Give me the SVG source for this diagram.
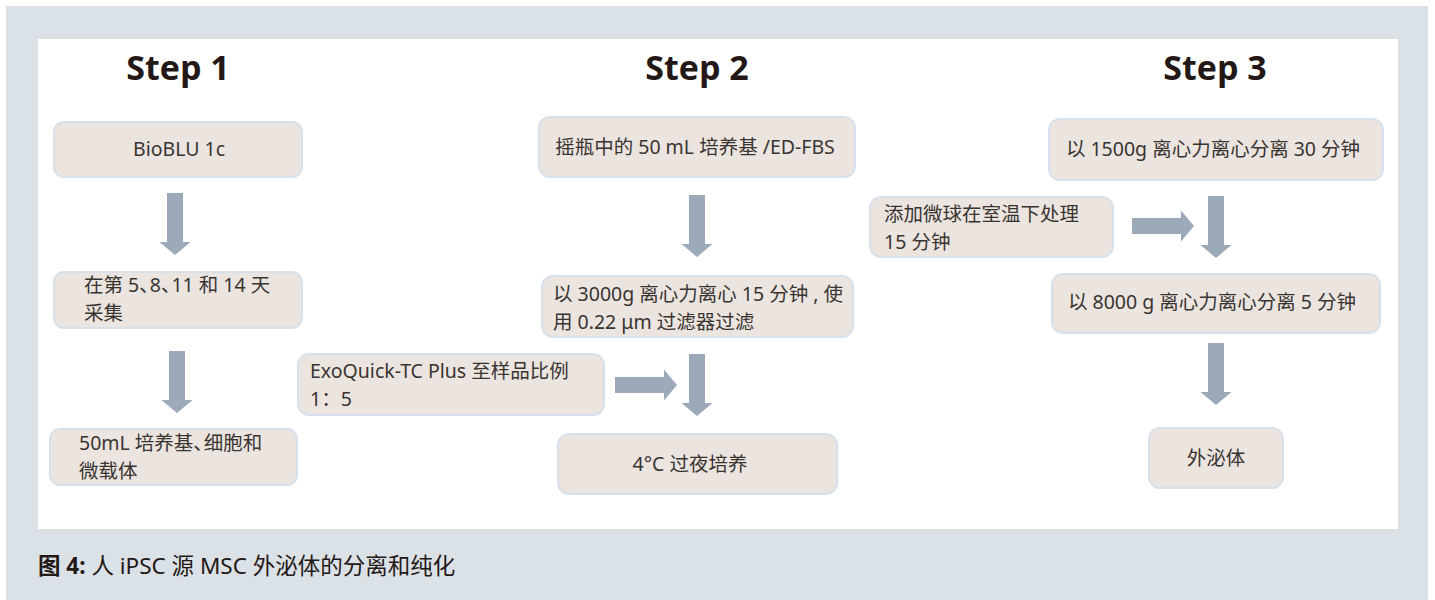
<svg xmlns="http://www.w3.org/2000/svg" xmlns:xlink="http://www.w3.org/1999/xlink" width="1435" height="600" viewBox="0 0 1435 600">
  <style>
    .frame { fill: #dae1e7; }
    .panel { fill: #ffffff; }
    .box { fill: #ebe4df; stroke: #d6e1ec; stroke-width: 2; }
    .step { font-family: "Open Sans", "Noto Sans", sans-serif; font-weight: 700; font-size: 34px; fill: #231815; text-anchor: middle; }
    .label { font-family: "Noto Sans", "Open Sans", "Noto Sans CJK SC", sans-serif; font-size: 19.5px; fill: #3a3431; }
    .mid { text-anchor: middle; }
    .caption { font-family: "Noto Sans", "Noto Sans CJK SC", sans-serif; font-size: 22.5px; fill: #231815; }
    .arrow { fill: #9ca9b8; }
    .tight { letter-spacing: -9px; }
  </style>
  <defs>
    <!-- block arrow pointing down, origin at the top centre of the shaft -->
    <path id="arrowDown" class="arrow" d="M-8,0 H8 V49 H15.5 L0,62 L-15.5,49 H-8 Z"/>
  </defs>

  <!-- background frame and white panel -->
  <rect x="0" y="0" width="1435" height="600" fill="#ffffff"/>
  <rect class="frame" x="6" y="6" width="1422" height="594"/>
  <rect class="panel" x="38" y="39" width="1360" height="490"/>

  <!-- column headings -->
  <g id="headings">
    <text class="step" x="178" y="80">Step 1</text>
    <text class="step" x="697" y="80">Step 2</text>
    <text class="step" x="1215" y="80">Step 3</text>
  </g>

  <!-- Step 1 column -->
  <g id="s1-bioblu">
    <rect class="box" x="54" y="122" width="248" height="55" rx="10"/>
    <text class="label mid" x="179" y="156">BioBLU 1c</text>
  </g>
  <g id="s1-collect">
    <rect class="box" x="54" y="272" width="248" height="56" rx="10"/>
    <text class="label"><tspan x="84" y="292">在第 5<tspan class="tight">、</tspan>8<tspan class="tight">、</tspan>11 和 14 天</tspan><tspan x="84" y="320">采集</tspan></text>
  </g>
  <g id="s1-medium">
    <rect class="box" x="50" y="429" width="247" height="56" rx="10"/>
    <text class="label"><tspan x="79" y="450">50mL 培养基<tspan class="tight">、</tspan>细胞和</tspan><tspan x="79" y="478">微载体</tspan></text>
  </g>

  <!-- Step 2 column -->
  <g id="s2-flask">
    <rect class="box" x="539" y="117" width="316" height="60" rx="11"/>
    <text class="label mid" x="695" y="154">摇瓶中的 50 mL 培养基 /ED-FBS</text>
  </g>
  <g id="s2-spin">
    <rect class="box" x="542" y="276" width="311" height="61" rx="11"/>
    <text class="label"><tspan x="553" y="301">以 3000g 离心力离心 15 分钟 , 使</tspan><tspan x="553" y="329">用 0.22 μm 过滤器过滤</tspan></text>
  </g>
  <g id="s2-exoquick">
    <rect class="box" x="298" y="354" width="306" height="61" rx="11"/>
    <text class="label"><tspan x="310" y="378">ExoQuick-TC Plus 至样品比例</tspan><tspan x="310" y="406">1：5</tspan></text>
  </g>
  <g id="s2-incubate">
    <rect class="box" x="558" y="434" width="279" height="60" rx="11"/>
    <text class="label mid" x="690" y="471">4°C 过夜培养</text>
  </g>

  <!-- Step 3 column -->
  <g id="s3-spin1500">
    <rect class="box" x="1049" y="119" width="334" height="61" rx="11"/>
    <text class="label mid" x="1213" y="156">以 1500g 离心力离心分离 30 分钟</text>
  </g>
  <g id="s3-beads">
    <rect class="box" x="870" y="197" width="243" height="60" rx="11"/>
    <text class="label"><tspan x="884" y="221">添加微球在室温下处理</tspan><tspan x="884" y="249">15 分钟</tspan></text>
  </g>
  <g id="s3-spin8000">
    <rect class="box" x="1052" y="274" width="328" height="59" rx="11"/>
    <text class="label mid" x="1212" y="309">以 8000 g 离心力离心分离 5 分钟</text>
  </g>
  <g id="s3-exosome">
    <rect class="box" x="1149" y="428" width="134" height="60" rx="11"/>
    <text class="label mid" x="1216" y="465">外泌体</text>
  </g>

  <!-- connectors -->
  <g id="connectors">
    <use xlink:href="#arrowDown" href="#arrowDown" transform="translate(175,193)"/>
    <use xlink:href="#arrowDown" href="#arrowDown" transform="translate(177,351)"/>
    <use xlink:href="#arrowDown" href="#arrowDown" transform="translate(697,195)"/>
    <use xlink:href="#arrowDown" href="#arrowDown" transform="translate(697,354)"/>
    <use xlink:href="#arrowDown" href="#arrowDown" transform="translate(615,385) rotate(-90)"/>
    <use xlink:href="#arrowDown" href="#arrowDown" transform="translate(1216,196)"/>
    <use xlink:href="#arrowDown" href="#arrowDown" transform="translate(1132,226) rotate(-90)"/>
    <use xlink:href="#arrowDown" href="#arrowDown" transform="translate(1216,343)"/>
  </g>

  <!-- figure caption -->
  <text class="caption" x="38" y="574"><tspan font-weight="700">图 4:</tspan> 人 iPSC 源 MSC 外泌体的分离和纯化</text>
</svg>
